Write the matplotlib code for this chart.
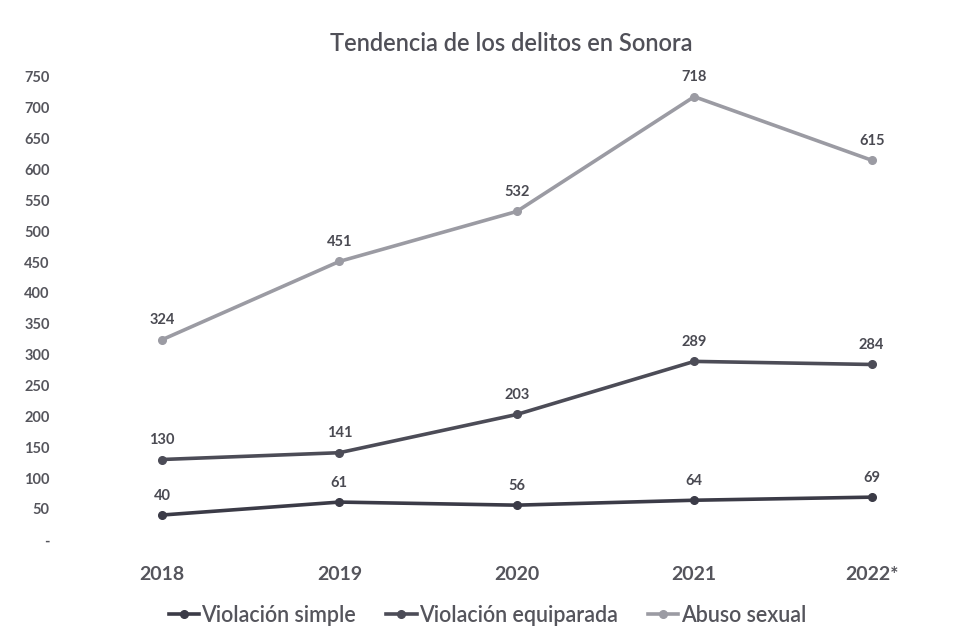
import matplotlib.pyplot as plt

# datos
anios = ['2018', '2019', '2020', '2021', '2022*']
violacion_simple = [40, 61, 56, 64, 69]
violacion_equiparada = [130, 141, 203, 289, 284]
abuso_sexual = [324, 451, 532, 718, 615]
yticks = list(range(0, 800, 50))
ytick_labels = ['-'] + [str(v) for v in yticks[1:]]

series = [
    ('Violación simple', violacion_simple, '#3b3b47'),
    ('Violación equiparada', violacion_equiparada, '#4c4c57'),
    ('Abuso sexual', abuso_sexual, '#9b9ba3'),
]

plt.rcParams['font.family'] = ['Lato', 'DejaVu Sans']

fig = plt.figure(figsize=(9.76, 6.41), dpi=100)
ax = fig.add_axes([0.075, 0.158, 0.909, 0.722])

x = list(range(len(anios)))
for nombre, valores, color in series:
    ax.plot(x, valores, color=color, lw=2.6, marker='o', ms=5.5,
            markerfacecolor=color, markeredgecolor=color, label=nombre)
    for xi, v in zip(x, valores):
        ax.annotate(str(v), (xi, v), xytext=(0, 9), textcoords='offset points',
                    ha='center', va='bottom', fontsize=10.5, fontweight='bold',
                    color='#4a4a52', annotation_clip=False)

ax.set_xlim(-0.5, len(anios) - 0.5)
ax.set_ylim(0, 750)
ax.set_xticks(x)
ax.set_xticklabels(anios, fontsize=14, fontweight='bold', color='#55555c')
ax.set_yticks(yticks)
ax.set_yticklabels(ytick_labels, fontsize=10.5, fontweight='bold', color='#55555c')
ax.tick_params(axis='both', length=0)
ax.tick_params(axis='y', pad=17)
ax.tick_params(axis='x', pad=19)
for s in ax.spines.values():
    s.set_visible(False)

fig.text(0.524, 0.932, 'Tendencia de los delitos en Sonora', ha='center', va='center',
         fontsize=17, fontweight='semibold', color='#505058')

leg = ax.legend(loc='center', ncol=3, frameon=False, fontsize=15.5, handlelength=1.4,
                handletextpad=0.12, columnspacing=1.4)
leg.set_bbox_to_anchor((0.4995, 1 - 615 / 641), transform=fig.transFigure)
for t in leg.get_texts():
    t.set_color('#55555c')
    t.set_fontweight('semibold')

fig.savefig('out.png', dpi=100, facecolor='white')
